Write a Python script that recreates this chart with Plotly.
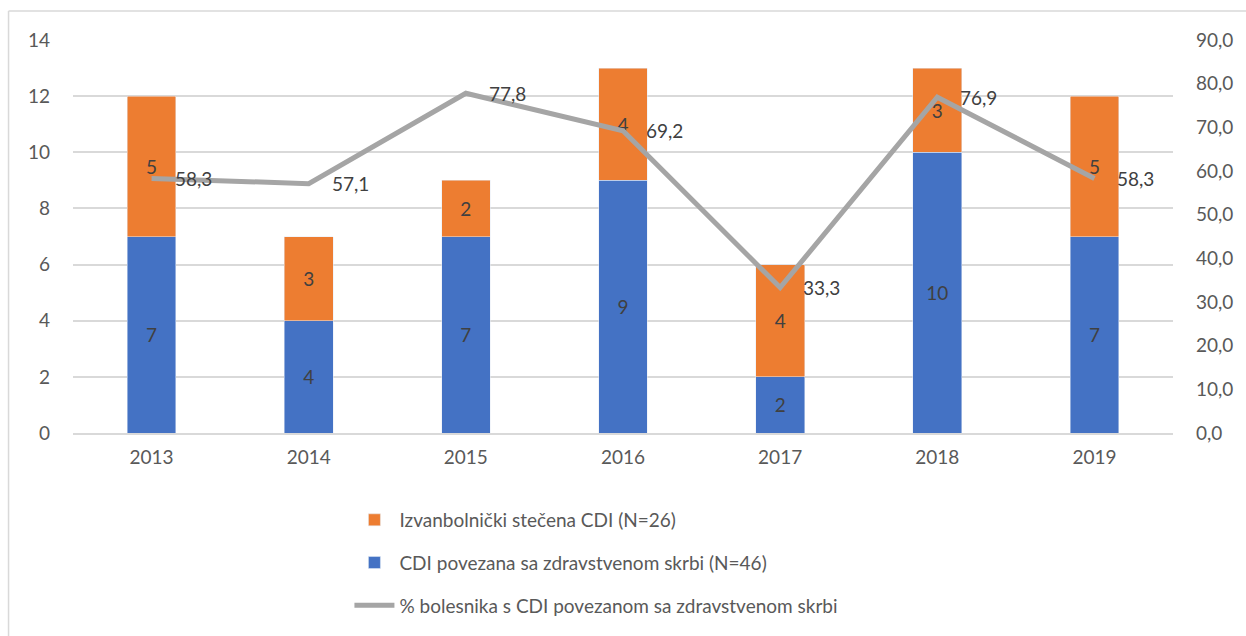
"""
CDI cases per year: stacked bars with percentage line on secondary axis.
"""

import plotly.graph_objects as go

years = ["2013", "2014", "2015", "2016", "2017", "2018", "2019"]
healthcare_cdi = [7, 4, 7, 9, 2, 10, 7]
community_cdi = [5, 3, 2, 4, 4, 3, 5]
pct_healthcare = [58.3, 57.1, 77.8, 69.2, 33.3, 76.9, 58.3]

name_community = "Izvanbolnički stečena CDI (N=26)"
name_healthcare = "CDI povezana sa zdravstvenom skrbi (N=46)"
name_pct = "% bolesnika s CDI povezanom sa zdravstvenom skrbi"

font_family = "Lato"
text_grey = "#595959"
label_grey = "#404040"
fsize = 19

fig = go.Figure()

# Blue bottom segment
fig.add_trace(
    go.Bar(
        x=years,
        y=healthcare_cdi,
        name=name_healthcare,
        marker={"color": "#4472C4"},
        text=healthcare_cdi,
        textposition="inside",
        insidetextanchor="middle",
        textfont={"size": fsize, "color": label_grey, "family": font_family},
        legendgroup="b",
        legendrank=2,
    )
)

# Orange top segment
fig.add_trace(
    go.Bar(
        x=years,
        y=community_cdi,
        name=name_community,
        marker={"color": "#ED7D31"},
        text=community_cdi,
        textposition="inside",
        insidetextanchor="middle",
        textfont={"size": fsize, "color": label_grey, "family": font_family},
        legendgroup="a",
        legendrank=1,
    )
)

# Percentage line on right axis
fig.add_trace(
    go.Scatter(
        x=years,
        y=pct_healthcare,
        name=name_pct,
        mode="lines",
        line={"color": "#A5A5A5", "width": 5},
        yaxis="y2",
        legendgroup="c",
        legendrank=3,
    )
)

# Line labels, to the right of each point (x given as category index)
for i, val in enumerate(pct_healthcare):
    fig.add_annotation(
        x=i,
        y=val,
        xref="x",
        yref="y2",
        text=f"{val:.1f}".replace(".", ","),
        showarrow=False,
        xanchor="left",
        xshift=21,
        font={"size": fsize, "color": label_grey, "family": font_family},
    )

# Chart border (left and top edges visible)
fig.add_shape(
    type="line", xref="paper", yref="paper",
    x0=-0.0586, x1=-0.0586, y0=1.0736, y1=-0.6,
    line={"color": "#D9D9D9", "width": 1.5},
)
fig.add_shape(
    type="line", xref="paper", yref="paper",
    x0=-0.0586, x1=1.2, y0=1.0736, y1=1.0736,
    line={"color": "#D9D9D9", "width": 1.5},
)

fig.update_layout(
    width=1246,
    height=636,
    margin={"l": 73, "r": 73, "t": 40, "b": 202},
    barmode="stack",
    bargap=0.69,
    plot_bgcolor="white",
    paper_bgcolor="white",
    font={"family": font_family, "size": fsize, "color": text_grey},
    showlegend=True,
    legend={
        "orientation": "v",
        "x": 0.2513,
        "xanchor": "left",
        "y": -0.17,
        "yanchor": "top",
        "traceorder": "grouped",
        "tracegroupgap": 15,
        "font": {"size": fsize, "color": text_grey, "family": font_family},
        "itemwidth": 40,
    },
    xaxis={
        "type": "category",
        "range": [-0.5, len(years) - 0.5],
        "showgrid": False,
        "showline": True,
        "linecolor": "#D9D9D9",
        "linewidth": 1.5,
        "ticks": "",
        "ticklabelstandoff": 6,
    },
    yaxis={
        "range": [0, 14],
        "dtick": 2,
        "showgrid": True,
        "gridcolor": "#D9D9D9",
        "gridwidth": 1.5,
        "zeroline": False,
        "ticks": "",
        "ticklabelstandoff": 22,
    },
    yaxis2={
        "range": [0, 90],
        "dtick": 10,
        "overlaying": "y",
        "side": "right",
        "showgrid": False,
        "zeroline": False,
        "tickformat": ".1f",
        "ticks": "",
        "ticklabelstandoff": 22,
    },
    separators=",.",
)

# Remove the default page margin so the figure fills the window
fig.write_html(
    "out.html",
    config={"displayModeBar": False},
    post_script="document.body.style.margin='0';document.body.style.overflow='hidden';",
)
